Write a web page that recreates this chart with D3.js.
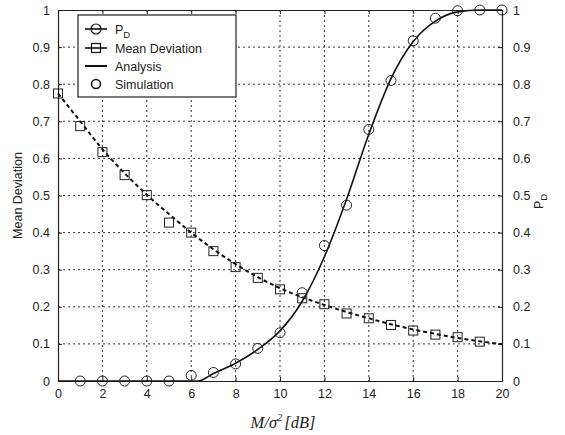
<!DOCTYPE html>
<html>
<head>
<meta charset="utf-8">
<script src="https://cdn.jsdelivr.net/npm/d3@7"></script>
<style>
  body { margin: 0; background: #fff; }
  svg text { font-family: "Liberation Sans", Arial, sans-serif; fill: #222; }
</style>
</head>
<body>
<svg width="565" height="435"></svg>
<script>
// simulation points
const simX = [0, 1, 2, 3, 4, 5, 6, 7, 8, 9, 10, 11, 12, 13, 14, 15, 16, 17, 18, 19, 20];
const devSim = [0.775, 0.687, 0.617, 0.555, 0.501, 0.427, 0.40, 0.35, 0.307, 0.278, 0.247, 0.223, 0.207, 0.182, 0.169, 0.151, 0.136, 0.125, 0.118, 0.106, null];
const pdSim = [null, 0, 0, 0, 0, 0, 0.015, 0.023, 0.046, 0.088, 0.13, 0.238, 0.365, 0.474, 0.678, 0.81, 0.917, 0.978, 0.998, 1, 1];

// analysis curves
const devAnaX = [0, 1, 2, 3, 4, 5, 6, 7, 8, 9, 10, 11, 12, 13, 14, 15, 16, 17, 18, 19, 20];
const devAna = [0.775, 0.70, 0.625, 0.56, 0.502, 0.45, 0.40, 0.355, 0.315, 0.28, 0.25, 0.226, 0.205, 0.186, 0.169, 0.153, 0.139, 0.127, 0.116, 0.107, 0.099];
const pdAnaX = [0, 2, 4, 6, 6.3, 7, 8, 9, 10, 11, 12, 13, 14, 15, 16, 17, 18, 19, 20];
const pdAna = [0, 0, 0, 0, 0, 0.02, 0.048, 0.085, 0.135, 0.215, 0.335, 0.49, 0.665, 0.815, 0.915, 0.97, 0.995, 1, 1];

const xTicks = [0, 2, 4, 6, 8, 10, 12, 14, 16, 18, 20];
const yTicks = [0, 0.1, 0.2, 0.3, 0.4, 0.5, 0.6, 0.7, 0.8, 0.9, 1];
const legendItems = ["P_D", "Mean Deviation", "Analysis", "Simulation"];

const pLeft = 58, pRight = 502, pTop = 10, pBottom = 381;
const svg = d3.select("svg");
const x = d3.scaleLinear().domain([0, 20]).range([pLeft, pRight]);
const y = d3.scaleLinear().domain([0, 1]).range([pBottom, pTop]);

// grid
const grid = svg.append("g").attr("stroke", "#333").attr("stroke-width", 1).attr("stroke-dasharray", "2,3");
grid.selectAll(".gx").data(xTicks.slice(1, -1)).enter().append("line")
  .attr("x1", d => x(d)).attr("x2", d => x(d)).attr("y1", pTop).attr("y2", pBottom);
grid.selectAll(".gy").data(yTicks.slice(1, -1)).enter().append("line")
  .attr("y1", d => y(d)).attr("y2", d => y(d)).attr("x1", pLeft).attr("x2", pRight);

// axes (ticks inward)
const fmt = d => d3.format("~g")(d);
svg.append("g").attr("transform", `translate(0,${pBottom})`)
  .call(d3.axisBottom(x).tickValues(xTicks).tickSizeInner(-4).tickSizeOuter(0).tickPadding(8).tickFormat(fmt));
svg.append("g").attr("transform", `translate(0,${pTop})`)
  .call(d3.axisTop(x).tickValues(xTicks).tickSizeInner(-4).tickSizeOuter(0).tickFormat(""));
svg.append("g").attr("transform", `translate(${pLeft},0)`)
  .call(d3.axisLeft(y).tickValues(yTicks).tickSizeInner(-4).tickSizeOuter(0).tickPadding(8).tickFormat(fmt));
svg.append("g").attr("transform", `translate(${pRight},0)`)
  .call(d3.axisRight(y).tickValues(yTicks).tickSizeInner(-4).tickSizeOuter(0).tickPadding(11).tickFormat(fmt));
svg.selectAll(".domain").attr("stroke", "#222").attr("stroke-width", 1.2);
svg.selectAll(".tick line").attr("stroke", "#222");
svg.selectAll(".tick text").attr("font-size", 12.5).attr("fill", "#333");

// curves
const line = d3.line().x(d => x(d[0])).y(d => y(d[1])).curve(d3.curveMonotoneX);
svg.append("path").datum(devAnaX.map((d, i) => [d, devAna[i]]))
  .attr("d", line).attr("fill", "none").attr("stroke", "#111").attr("stroke-width", 2).attr("stroke-dasharray", "4,3");
svg.append("path").datum(pdAnaX.map((d, i) => [d, pdAna[i]]))
  .attr("d", line).attr("fill", "none").attr("stroke", "#111").attr("stroke-width", 1.6);

// markers
const sq = 9;
svg.selectAll(".sq").data(simX.map((d, i) => [d, devSim[i]]).filter(d => d[1] !== null))
  .enter().append("rect")
  .attr("x", d => x(d[0]) - sq / 2).attr("y", d => y(d[1]) - sq / 2)
  .attr("width", sq).attr("height", sq)
  .attr("fill", "none").attr("stroke", "#222").attr("stroke-width", 1);
svg.selectAll(".ci").data(simX.map((d, i) => [d, pdSim[i]]).filter(d => d[1] !== null))
  .enter().append("circle")
  .attr("cx", d => x(d[0])).attr("cy", d => y(d[1])).attr("r", 5)
  .attr("fill", "none").attr("stroke", "#222").attr("stroke-width", 1);

// legend
const lg = svg.append("g");
lg.append("rect").attr("x", 78).attr("y", 15).attr("width", 158).attr("height", 82)
  .attr("fill", "#fff").attr("stroke", "#222").attr("stroke-width", 1.2);
const ly = [29, 48, 66, 84];
const lx1 = 85, lx2 = 107, lxc = 96;
lg.append("line").attr("x1", lx1).attr("x2", lx2).attr("y1", ly[0]).attr("y2", ly[0]).attr("stroke", "#111").attr("stroke-width", 1.6);
lg.append("circle").attr("cx", lxc).attr("cy", ly[0]).attr("r", 5).attr("fill", "none").attr("stroke", "#111").attr("stroke-width", 1.2);
lg.append("line").attr("x1", lx1).attr("x2", lx2).attr("y1", ly[1]).attr("y2", ly[1]).attr("stroke", "#111").attr("stroke-width", 1.6);
lg.append("rect").attr("x", lxc - 4.5).attr("y", ly[1] - 4.5).attr("width", 9).attr("height", 9).attr("fill", "none").attr("stroke", "#111").attr("stroke-width", 1.2);
lg.append("line").attr("x1", lx1).attr("x2", lx2).attr("y1", ly[2]).attr("y2", ly[2]).attr("stroke", "#111").attr("stroke-width", 2);
lg.append("circle").attr("cx", lxc).attr("cy", ly[3]).attr("r", 4.5).attr("fill", "none").attr("stroke", "#111").attr("stroke-width", 1.5);
legendItems.forEach((t, i) => {
  const tx = lg.append("text").attr("x", 115).attr("y", ly[i] + 4.5).attr("font-size", 12.5);
  if (t === "P_D") {
    tx.append("tspan").text("P");
    tx.append("tspan").attr("dy", 4).attr("font-size", 9.5).text("D");
  } else tx.text(t);
});

// axis titles
svg.append("text").attr("transform", `translate(22,${(pTop + pBottom) / 2}) rotate(-90)`)
  .attr("text-anchor", "middle").attr("font-size", 12.5).text("Mean Deviation");
const pd = svg.append("text").attr("transform", `translate(543,${(pTop + pBottom) / 2 + 6}) rotate(-90)`)
  .attr("text-anchor", "middle").attr("font-size", 12.5);
pd.append("tspan").text("P");
pd.append("tspan").attr("dy", 4).attr("font-size", 9.5).text("D");

const xl = svg.append("text").attr("x", x(10) + 3).attr("y", 428).attr("text-anchor", "middle")
  .style("font-family", "'Liberation Serif', 'Times New Roman', serif").attr("font-size", 16.5).attr("font-style", "italic");
xl.append("tspan").text("M/σ");
xl.append("tspan").attr("dy", -7).attr("font-size", 10.5).text("2");
xl.append("tspan").attr("dy", 7).attr("dx", 2).text("[dB]");
</script>
</body>
</html>
